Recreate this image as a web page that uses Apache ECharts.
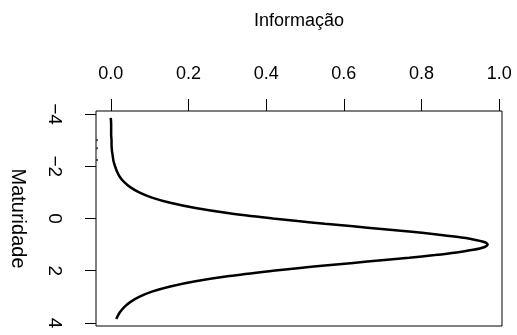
<!DOCTYPE html>
<html>
<head>
<meta charset="utf-8">
<script src="https://cdn.jsdelivr.net/npm/echarts@6/dist/echarts.min.js"></script>
<style>
  html, body { margin: 0; padding: 0; background: #fff; }
  #chart { width: 517px; height: 335px; }
</style>
</head>
<body>
<div id="chart"></div>
<script>
// Item information curve: maturity level (theta) against information
const theta = [-3.85, -3.6, -3.4, -3.2, -3.0, -2.8, -2.6, -2.4, -2.2, -2.0,
  -1.8, -1.6, -1.4, -1.2, -1.0, -0.8, -0.6, -0.4, -0.2, 0.0,
  0.1, 0.2, 0.3, 0.4, 0.5, 0.6, 0.7, 0.8, 0.9, 1.0,
  1.1, 1.2, 1.3, 1.4, 1.5, 1.6, 1.7, 1.8, 1.9, 2.0,
  2.2, 2.4, 2.6, 2.8, 3.0, 3.2, 3.4, 3.6, 3.85];
const info = [0.000, 0.001, 0.001, 0.001, 0.002, 0.002, 0.003, 0.005, 0.007, 0.011,
  0.016, 0.023, 0.034, 0.050, 0.073, 0.106, 0.153, 0.218, 0.305, 0.417,
  0.481, 0.551, 0.624, 0.697, 0.768, 0.834, 0.890, 0.933, 0.961, 0.970,
  0.961, 0.933, 0.890, 0.834, 0.768, 0.697, 0.624, 0.551, 0.481, 0.417,
  0.305, 0.218, 0.153, 0.106, 0.073, 0.050, 0.034, 0.023, 0.014];
// short rug marks along the left edge
const rugTheta = [-3.0, -2.69, -2.24];

const xTicks = [0, 0.2, 0.4, 0.6, 0.8, 1.0];
const yTicks = [-4, -2, 0, 2, 4];
const xTitle = 'Informação';
const yTitle = 'Maturidade';

const font = "'Liberation Sans', Arial, Helvetica, sans-serif";

const chart = echarts.init(document.getElementById('chart'), null, { renderer: 'canvas' });
chart.setOption({
  animation: false,
  backgroundColor: '#ffffff',
  grid: {
    left: 91, top: 111, width: 411, height: 215,
    show: true, borderColor: '#000', borderWidth: 1, backgroundColor: 'transparent'
  },
  xAxis: {
    type: 'value', position: 'top',
    min: -0.038, max: 1.007,
    name: xTitle, nameLocation: 'middle', nameGap: 81,
    nameTextStyle: { fontFamily: font, fontSize: 18, color: '#000' },
    axisLine: { show: false, onZero: false },
    splitLine: { show: false },
    axisTick: { show: true, length: 12, customValues: xTicks, lineStyle: { color: '#000', width: 1 } },
    axisLabel: {
      customValues: xTicks, margin: 28,
      fontFamily: font, fontSize: 18, color: '#000',
      formatter: v => v.toFixed(1)
    }
  },
  yAxis: {
    type: 'value', inverse: true,
    min: -4.115, max: 4.115,
    name: yTitle, nameLocation: 'middle', nameGap: 68, nameRotate: -90,
    nameTextStyle: { fontFamily: font, fontSize: 20, color: '#000' },
    axisLine: { show: false, onZero: false },
    splitLine: { show: false },
    axisTick: { show: true, length: 11, customValues: yTicks, lineStyle: { color: '#000', width: 1 } },
    axisLabel: {
      customValues: yTicks, margin: 32, rotate: -90,
      fontFamily: font, fontSize: 19, color: '#000',
      formatter: v => (v < 0 ? '\u2212' + Math.abs(v) : String(v))
    }
  },
  series: [
    {
      type: 'line',
      data: theta.map((t, i) => [info[i], t]),
      showSymbol: false,
      smooth: 0.3,
      lineStyle: { color: '#000', width: 2.5 },
      silent: true
    },
    {
      type: 'scatter',
      data: rugTheta.map(t => [-0.0355, t]),
      symbol: 'rect',
      symbolSize: [2, 2],
      itemStyle: { color: '#222' },
      silent: true
    }
  ]
});
</script>
</body>
</html>
